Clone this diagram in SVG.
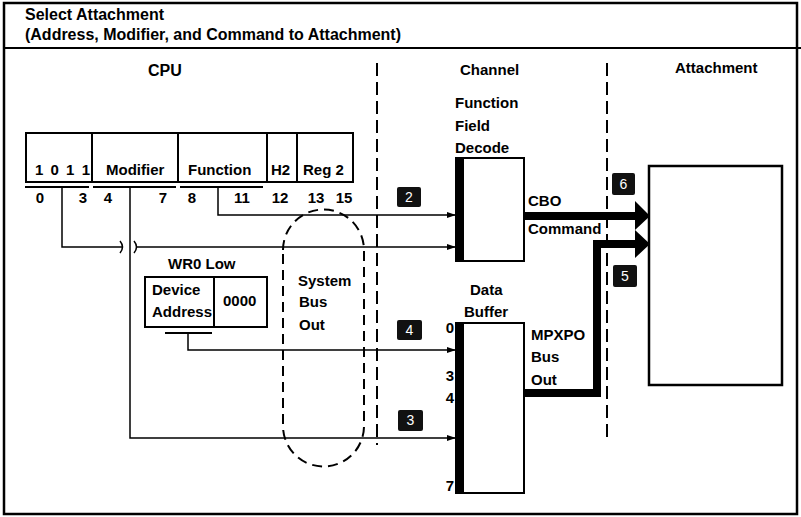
<svg xmlns="http://www.w3.org/2000/svg" width="801" height="517" viewBox="0 0 801 517">
<defs>
<marker id="ah" markerWidth="9" markerHeight="6" refX="9" refY="3" orient="auto" markerUnits="userSpaceOnUse"><path d="M0,0 L9,3 L0,6 z" fill="#000"/></marker>
<style>
text{font-family:"Liberation Sans",Arial,Helvetica,sans-serif;font-size:15px;font-weight:bold;fill:#000}
.h{font-size:16px}
.n{fill:#fff;font-weight:normal;font-size:14px;text-anchor:middle}
.e{text-anchor:end}
.m{text-anchor:middle}
.box{fill:#fff;stroke:#000;stroke-width:2}
.ln{fill:none;stroke:#000;stroke-width:1.5}
.ov{fill:none;stroke:#000;stroke-width:2}
.div{fill:none;stroke:#000;stroke-width:2;stroke-dasharray:13 6}
.oval{fill:none;stroke:#000;stroke-width:2;stroke-dasharray:10 6}
.thick{fill:none;stroke:#000;stroke-width:8}
.badge{fill:#111}
</style>
</defs>
<rect x="0" y="0" width="801" height="517" fill="#fff"/>
<g id="frame">
<rect x="4" y="3" width="793" height="511" fill="none" stroke="#000" stroke-width="2.5"/>
<line x1="4" y1="48" x2="801" y2="48" stroke="#000" stroke-width="2"/>
<text class="h" x="25" y="20">Select Attachment</text>
<text class="h" x="25" y="40" textLength="376" lengthAdjust="spacingAndGlyphs">(Address, Modifier, and Command to Attachment)</text>
<line class="div" x1="377" y1="63" x2="377" y2="445"/>
<line class="div" x1="607" y1="63" x2="607" y2="442"/>
<text class="h" x="148" y="76">CPU</text>
<text x="460" y="75">Channel</text>
<text x="675" y="73">Attachment</text>
</g>
<g id="register">
<rect class="box" x="26" y="133" width="327" height="49"/>
<line class="ov" x1="92" y1="133" x2="92" y2="182"/>
<line class="ov" x1="178" y1="133" x2="178" y2="182"/>
<line class="ov" x1="267" y1="133" x2="267" y2="182"/>
<line class="ov" x1="297" y1="133" x2="297" y2="182"/>
<text x="35" y="175" textLength="55" lengthAdjust="spacing">1 0 1 1</text>
<text x="106" y="175">Modifier</text>
<text x="188" y="175">Function</text>
<text x="271" y="175">H2</text>
<text x="303" y="175">Reg 2</text>
</g>
<g id="bit-numbers">
<line class="ov" x1="25" y1="187" x2="89" y2="187"/>
<line class="ov" x1="93" y1="187" x2="176" y2="187"/>
<line class="ov" x1="180" y1="187" x2="263" y2="187"/>
<text class="m" x="40" y="203">0</text>
<text class="m" x="83" y="203">3</text>
<text class="m" x="108" y="203">4</text>
<text class="m" x="163" y="203">7</text>
<text class="m" x="192" y="203">8</text>
<text class="m" x="242" y="203">11</text>
<text class="m" x="280" y="203">12</text>
<text class="m" x="316" y="203">13</text>
<text class="m" x="344" y="203">15</text>
</g>
<g id="wr0-low">
<text x="168" y="269">WR0 Low</text>
<rect class="box" x="145" y="277" width="122" height="50"/>
<line class="ov" x1="214" y1="277" x2="214" y2="327"/>
<text x="152" y="295">Device</text>
<text x="152" y="317">Address</text>
<text x="223" y="306">0000</text>
</g>
<g id="system-bus-out">
<path class="oval" d="M283,250 A40.5,40.5 0 0 1 364,250 V426 A40.5,40.5 0 0 1 283,426 Z"/>
<text x="298" y="286">System</text>
<text x="299" y="307">Bus</text>
<text x="299" y="330">Out</text>
</g>
<g id="function-field-decode">
<text x="455" y="108">Function</text>
<text x="455" y="131">Field</text>
<text x="455" y="153">Decode</text>
<rect class="box" x="456" y="158" width="68" height="103"/>
<rect x="456" y="158" width="8" height="103" fill="#000"/>
</g>
<g id="data-buffer">
<text x="470" y="295">Data</text>
<text x="464" y="317">Buffer</text>
<rect class="box" x="456" y="323" width="68" height="170"/>
<rect x="456" y="323" width="8" height="170" fill="#000"/>
<text class="e" x="454" y="333">0</text>
<text class="e" x="454" y="381">3</text>
<text class="e" x="454" y="403">4</text>
<text class="e" x="454" y="491">7</text>
</g>
<g id="attachment">
<rect x="649" y="166" width="133" height="219" fill="#fff" stroke="#000" stroke-width="2.5"/>
</g>
<g id="connectors">
<path class="ln" d="M218,187 V215 H456" marker-end="url(#ah)"/>
<path class="ln" d="M62,187 V247 H123"/>
<path class="ln" d="M120,241 q5,6 0,12 M134,241 q5,6 0,12"/>
<path class="ln" d="M137,247 H456" marker-end="url(#ah)"/>
<path class="ln" d="M130,187 V438 H456" marker-end="url(#ah)"/>
<path class="ov" d="M165,333 H212"/>
<path class="ln" d="M188,333 V350 H456" marker-end="url(#ah)"/>
<path class="thick" d="M524,216 H637"/>
<polygon points="635,201 650,216 635,230" fill="#000"/>
<path class="thick" d="M524,393 H597 V244 H637"/>
<polygon points="635,230 650,244 635,258" fill="#000"/>
<text x="528" y="206">CBO</text>
<text x="528" y="234">Command</text>
<text x="531" y="340">MPXPO</text>
<text x="531" y="362">Bus</text>
<text x="531" y="385">Out</text>
</g>
<g id="badges">
<rect class="badge" x="397" y="187" width="24" height="20" rx="2"/><text class="n" x="409" y="202">2</text>
<rect class="badge" x="612" y="173" width="23" height="22" rx="2"/><text class="n" x="623.5" y="189">6</text>
<rect class="badge" x="613" y="265" width="24" height="22" rx="2"/><text class="n" x="625" y="281">5</text>
<rect class="badge" x="397" y="320" width="25" height="20" rx="2"/><text class="n" x="409.5" y="335">4</text>
<rect class="badge" x="398" y="410" width="25" height="21" rx="2"/><text class="n" x="410.5" y="425">3</text>
</g>
</svg>
